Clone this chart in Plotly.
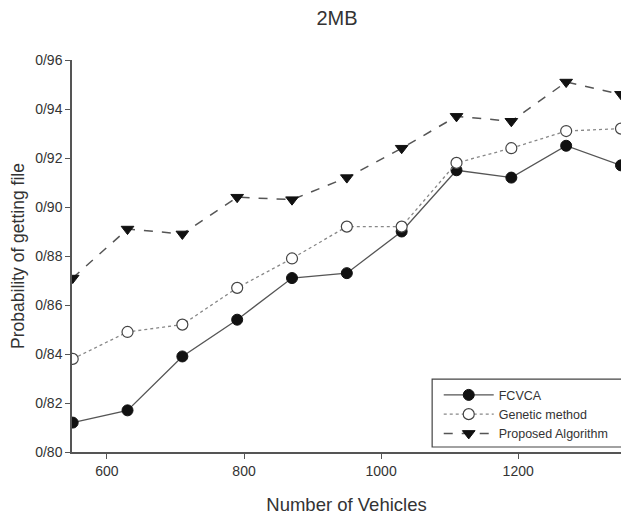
import plotly.graph_objects as go

vehicles = [550, 630, 710, 790, 870, 950, 1030, 1110, 1190, 1270, 1350]
fcvca = [0.812, 0.817, 0.839, 0.854, 0.871, 0.873, 0.890, 0.915, 0.912, 0.925, 0.917]
genetic = [0.838, 0.849, 0.852, 0.867, 0.879, 0.892, 0.892, 0.918, 0.924, 0.931, 0.932]
proposed = [0.871, 0.891, 0.889, 0.904, 0.903, 0.912, 0.924, 0.937, 0.935, 0.951, 0.946]

y_tickvals = [0.80, 0.82, 0.84, 0.86, 0.88, 0.90, 0.92, 0.94, 0.96]
y_ticktext = ["0/80", "0/82", "0/84", "0/86", "0/88", "0/90", "0/92", "0/94", "0/96"]
x_tickvals = [600, 800, 1000, 1200]

font = "Arial, Liberation Sans, sans-serif"
line_col = "#555555"

fig = go.Figure()
fig.add_trace(go.Scatter(
    x=vehicles, y=fcvca, name="FCVCA", mode="lines+markers",
    line=dict(color=line_col, width=1.3, dash="solid"),
    marker=dict(symbol="circle", size=11, color="#111111", line=dict(color="#111111", width=1)),
))
fig.add_trace(go.Scatter(
    x=vehicles, y=genetic, name="Genetic method", mode="lines+markers",
    line=dict(color="#888888", width=1.3, dash="dot"),
    marker=dict(symbol="circle", size=11, color="white", line=dict(color="#444444", width=1.2)),
))
fig.add_trace(go.Scatter(
    x=vehicles, y=proposed, name="Proposed Algorithm", mode="lines+markers",
    line=dict(color=line_col, width=1.5, dash="dash"),
    marker=dict(symbol="triangle-down", size=11, color="#111111", line=dict(color="#111111", width=1)),
))

# legend frame (extends past the right edge, as in the cropped original)
fig.add_shape(type="rect", xref="paper", yref="paper",
              x0=0.656, x1=1.02, y0=0.0128, y1=0.186,
              line=dict(color="#444444", width=1.2), fillcolor="white", layer="above")

fig.update_layout(
    width=621, height=518,
    margin=dict(l=72, r=0, t=60, b=66),
    paper_bgcolor="white", plot_bgcolor="white",
    font=dict(family=font, color="#333333", size=14),
    title=dict(text="2MB", xref="container", x=0.5427, xanchor="center",
               yref="container", y=0.965, yanchor="middle",
               font=dict(size=20, color="#333333")),
    showlegend=True,
    legend=dict(x=0.668, y=0.183, xanchor="left", yanchor="top",
                borderwidth=0, bgcolor="rgba(0,0,0,0)",
                font=dict(size=12.5, color="#333333"), itemwidth=50,
                tracegroupgap=0),
)
fig.update_xaxes(
    range=[549, 1350], tickvals=x_tickvals, showgrid=False, zeroline=False,
    showline=True, linecolor=line_col, linewidth=1.5,
    ticks="outside", ticklen=5, tickcolor=line_col,
    tickfont=dict(size=14, color="#333333"),
    title=dict(text="Number of Vehicles", font=dict(size=18.5, color="#333333"), standoff=21),
)
fig.update_yaxes(
    range=[0.80, 0.96], tickvals=y_tickvals, ticktext=y_ticktext,
    showgrid=False, zeroline=False,
    showline=True, linecolor=line_col, linewidth=1.5,
    ticks="outside", ticklen=5, tickcolor=line_col,
    tickfont=dict(size=14, color="#333333"),
    title=dict(text="Probability of getting file", font=dict(size=17.5, color="#333333"), standoff=6),
)

fig.write_html(
    "out.html",
    config={"displayModeBar": False},
    post_script="document.body.style.margin='0';document.body.style.overflow='hidden';",
)
